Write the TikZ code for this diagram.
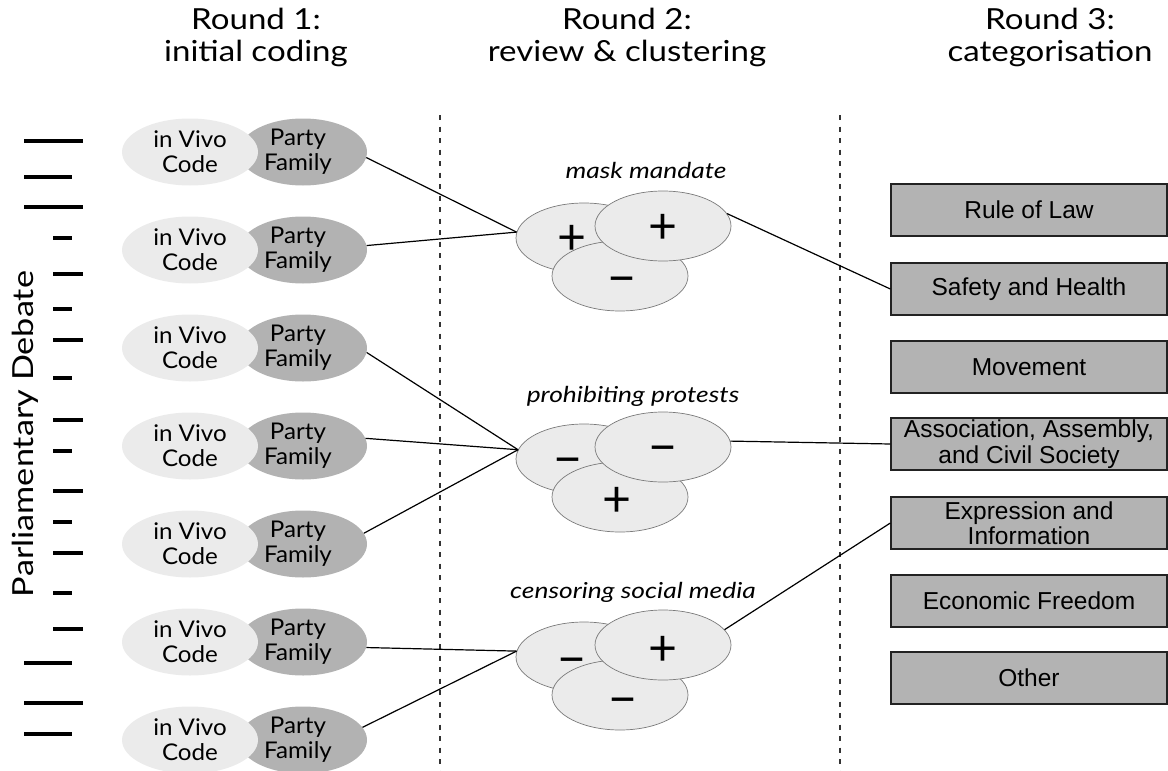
\documentclass[tikz,border=0pt]{standalone}
\usepackage{fontspec}
\setmainfont{Lato}
\newfontfamily\headfont{Lato}[FakeStretch=1.14]
\newfontfamily\codefont{Lato}[FakeStretch=1.05]
\newfontfamily\topicfont{Lato}[FakeStretch=1.2]
\newfontfamily\sidefont{Lato}[FakeStretch=1.18]
\newfontfamily\boxfont{Liberation Sans}
\usetikzlibrary{shapes.geometric}

\definecolor{ivfill}{HTML}{EBEBEB}
\definecolor{pffill}{HTML}{B2B2B2}
\definecolor{clfill}{HTML}{EBEBEB}
\definecolor{clline}{HTML}{7A7A7A}
\definecolor{bxfill}{HTML}{B3B3B3}
\definecolor{bxline}{HTML}{222222}
\definecolor{divline}{HTML}{333333}

\tikzset{
  head/.style={align=center, inner sep=0pt, anchor=north,
    font=\headfont\fontsize{29}{32}\selectfont},
  ivcode/.style={ellipse, fill=ivfill, minimum width=136pt, minimum height=67pt,
    inner sep=0pt, align=center, font=\codefont\fontsize{23}{25}\selectfont},
  pfam/.style={ellipse, fill=pffill, minimum width=128pt, minimum height=67pt,
    inner sep=0pt},
  pftext/.style={align=center, inner sep=0pt, font=\codefont\fontsize{23}{25}\selectfont},
  clus/.style={ellipse, draw=clline, line width=0.7pt, fill=clfill,
    minimum width=136pt, minimum height=70pt, inner sep=0pt},
  sign/.style={inner sep=0pt, anchor=base, font=\fontsize{50}{50}\selectfont},
  topic/.style={inner sep=0pt, anchor=base, font=\topicfont\itshape\fontsize{22}{24}\selectfont},
  catbox/.style={rectangle, draw=bxline, line width=1.3pt, fill=bxfill,
    minimum width=276pt, minimum height=52pt, inner sep=0pt, align=center,
    font=\boxfont\fontsize{24.5}{25.5}\selectfont},
  conn/.style={draw=black, line width=1.2pt},
  divider/.style={draw=divline, line width=1.6pt, dash pattern=on 5pt off 6.5pt},
  tick/.style={draw=black, line width=3.5pt},
}

\begin{document}
\begin{tikzpicture}[x=1pt,y=-1pt]
\useasboundingbox (0,0) rectangle (1168,771);

% column headings
\node[head] (h1) at (256,8) {Round 1:\\initial coding};
\node[head] (h2) at (627,8) {Round 2:\\review \& clustering};
\node[head] (h3) at (1050,8) {Round 3:\\categorisation};

% column separators
\draw[divider] (440,115) -- (440,771);
\draw[divider] (840,115) -- (840,771);

% debate timeline
\foreach \y/\a/\b in {141/24/83, 177/24/72, 207/24/83, 238/53/72, 274/53/83,
    309/53/72, 340/53/83, 378/53/72, 420/53/83, 451/53/72, 491/53/83,
    522/53/72, 553/53/83, 593/53/72, 629/53/83, 663/24/72, 703/24/83, 734/24/72}
  \draw[tick] (\a,\y) -- (\b,\y);
\node[rotate=90, anchor=base, inner sep=0pt, font=\sidefont\fontsize{29}{32}\selectfont]
  (pd) at (33,434) {Parliamentary Debate};

% coded statements
\foreach \i/\y in {1/152, 2/250, 3/348, 4/446, 5/544, 6/642, 7/740} {
  \node[pfam] (p\i) at (303,\y) {};
  \node[ivcode] (v\i) at (190,\y) {in Vivo\\Code};
  \node[pftext] (t\i) at (298,\y) {Party\\Family};
}

% clusters of positions
\foreach \c/\y in {1/238, 2/459, 3/657} {
  \node[clus] (l\c) at (584,\y) {};
  \node[clus] (b\c) at (620,{\y+38}) {};
  \node[clus] (r\c) at (663,{\y-12}) {};
}

% signs of the positions
\node[sign] (sl1) at (572,254) {+};
\node[sign] (sr1) at (663,243) {+};
\node[sign] (sb1) at (622,295) {−};
\node[sign] (sl2) at (568,476) {−};
\node[sign] (sr2) at (663,464) {−};
\node[sign] (sb2) at (617,516) {+};
\node[sign] (sl3) at (572,676) {−};
\node[sign] (sr3) at (663,665) {+};
\node[sign] (sb3) at (623,716) {−};

% cluster topics
\node[topic] (k1) at (646,178) {mask mandate};
\node[topic] (k2) at (633,402) {prohibiting protests};
\node[topic] (k3) at (633,598) {censoring social media};

% categories
\node[catbox] (c1) at (1029,210) {Rule of Law};
\node[catbox] (c2) at (1029,289) {Safety and Health};
\node[catbox] (c3) at (1029,367) {Movement};
\node[catbox] (c4) at (1029,444) {Association, Assembly,\\and Civil Society};
\node[catbox] (c5) at (1029,523) {Expression and\\Information};
\node[catbox] (c6) at (1029,601) {Economic Freedom};
\node[catbox] (c7) at (1029,678) {Other};

% statements to clusters
\draw[conn] (p1.-5) -- (l1.175);
\draw[conn] (p2.4) -- (l1.175);
\draw[conn] (p3.-4) -- (l2.172);
\draw[conn] (p4.7) -- (l2.172);
\draw[conn] (p5.10) -- (l2.172);
\draw[conn] (p6.-5) -- (l3.175);
\draw[conn] (p7.12) -- (l3.175);

% clusters to categories
\draw[conn] (r1.11) -- (c2.west);
\draw[conn] (r2.5) -- (c4.west);
\draw[conn] (r3.14) -- (c5.west);
\end{tikzpicture}
\end{document}
